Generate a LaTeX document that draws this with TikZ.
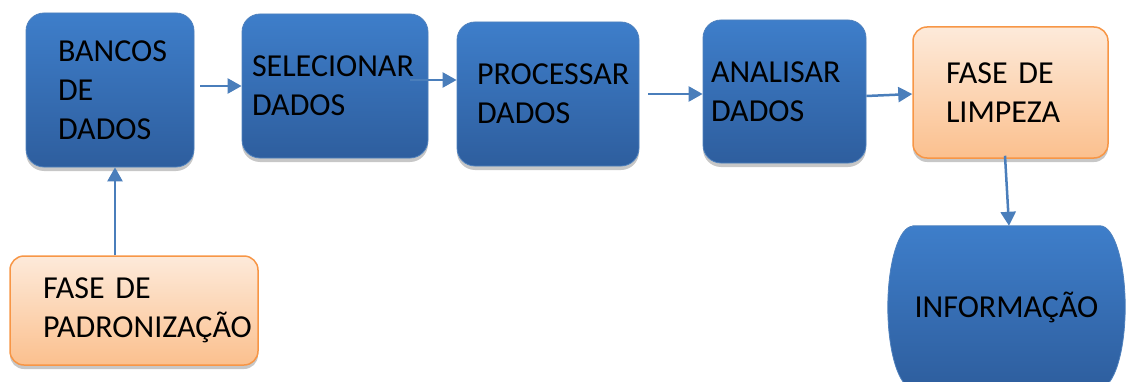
\documentclass[tikz,border=0pt]{standalone}
\usepackage{fontspec}
\setmainfont{Carlito}
\usetikzlibrary{arrows.meta,shadows,backgrounds}

\definecolor{bluetop}{RGB}{62,126,202}
\definecolor{bluebot}{RGB}{46,94,158}
\definecolor{blueedge}{RGB}{79,129,189}
\definecolor{blueline}{RGB}{74,126,187}
\definecolor{orangetop}{RGB}{253,234,218}
\definecolor{orangebot}{RGB}{251,192,142}
\definecolor{orangeedge}{RGB}{247,150,70}

\tikzset{
	label font/.style={font=\fontsize{32}{39}\selectfont},
	box/.style={label font, align=left, inner ysep=0pt,
		drop shadow={shadow xshift=0pt, shadow yshift=-4pt, fill=black!22, opacity=1}},
	bluebox/.style={box, rounded corners=18pt, draw=blueedge, line width=0.8pt,
		top color=bluetop, bottom color=bluebot},
	orangebox/.style={box, rounded corners=14pt, draw=orangeedge, line width=1.5pt,
		top color=orangetop, bottom color=orangebot},
	flow/.style={draw=blueline, line width=2.5pt,
		-{Triangle[length=14pt,width=15pt]}},
}

\begin{document}
\begin{tikzpicture}[x=1pt,y=1pt]
\useasboundingbox (0,0) rectangle (1126,381);

\node[bluebox, text width=104pt, inner xsep=32pt, minimum height=154pt]
	(banco) at (110,291) {BANCOS\\DE\\DADOS};
\node[bluebox, text width=166pt, inner xsep=10pt, minimum height=144pt]
	(sel) at (335,295) {SELECIONAR\\DADOS};
\node[bluebox, text width=142pt, inner xsep=20pt, minimum height=144pt]
	(proc) at (548,287) {PROCESSAR\\DADOS};
\node[bluebox, text width=147pt, inner xsep=8pt, minimum height=143pt]
	(anal) at (784.5,289.5) {ANALISAR\\DADOS};
\node[orangebox, text width=129pt, inner xsep=33pt, minimum height=131pt]
	(limp) at (1010.5,288.5) {FASE DE\\LIMPEZA};
\node[orangebox, text width=182pt, inner xsep=33pt, minimum height=109pt]
	(padr) at (134,70.5) {FASE DE\\PADRONIZAÇÃO};

\node[label font, minimum width=187pt, minimum height=162pt, inner sep=0pt]
	(info) at (1006.5,74) {INFORMAÇÃO};
\begin{scope}[on background layer]
\path[draw=blueedge, line width=0.8pt, top color=bluetop, bottom color=bluebot]
	(info.north west) -- (info.north east)
	arc[start angle=90, end angle=-90, x radius=25pt, y radius=81pt]
	-- (info.south west)
	arc[start angle=270, end angle=90, x radius=25pt, y radius=81pt]
	-- cycle;
\end{scope}

\draw[flow] ([xshift=6pt,yshift=4pt]banco.east) -- (sel.west);
\draw[flow] ([xshift=-18pt,yshift=6pt]sel.east) -- ([yshift=14pt]proc.west);
\draw[flow] ([xshift=9pt]proc.east) -- ([yshift=-2.5pt]anal.west);
\draw[flow] ([yshift=-4.5pt]anal.east) -- ([yshift=-1.5pt]limp.west);
\draw[flow] ([xshift=-5.5pt,yshift=3pt]limp.south) -- ([xshift=2.5pt]info.north);
\draw[flow] ([xshift=-19pt]padr.north) -- ([xshift=5pt]banco.south);

\end{tikzpicture}
\end{document}
